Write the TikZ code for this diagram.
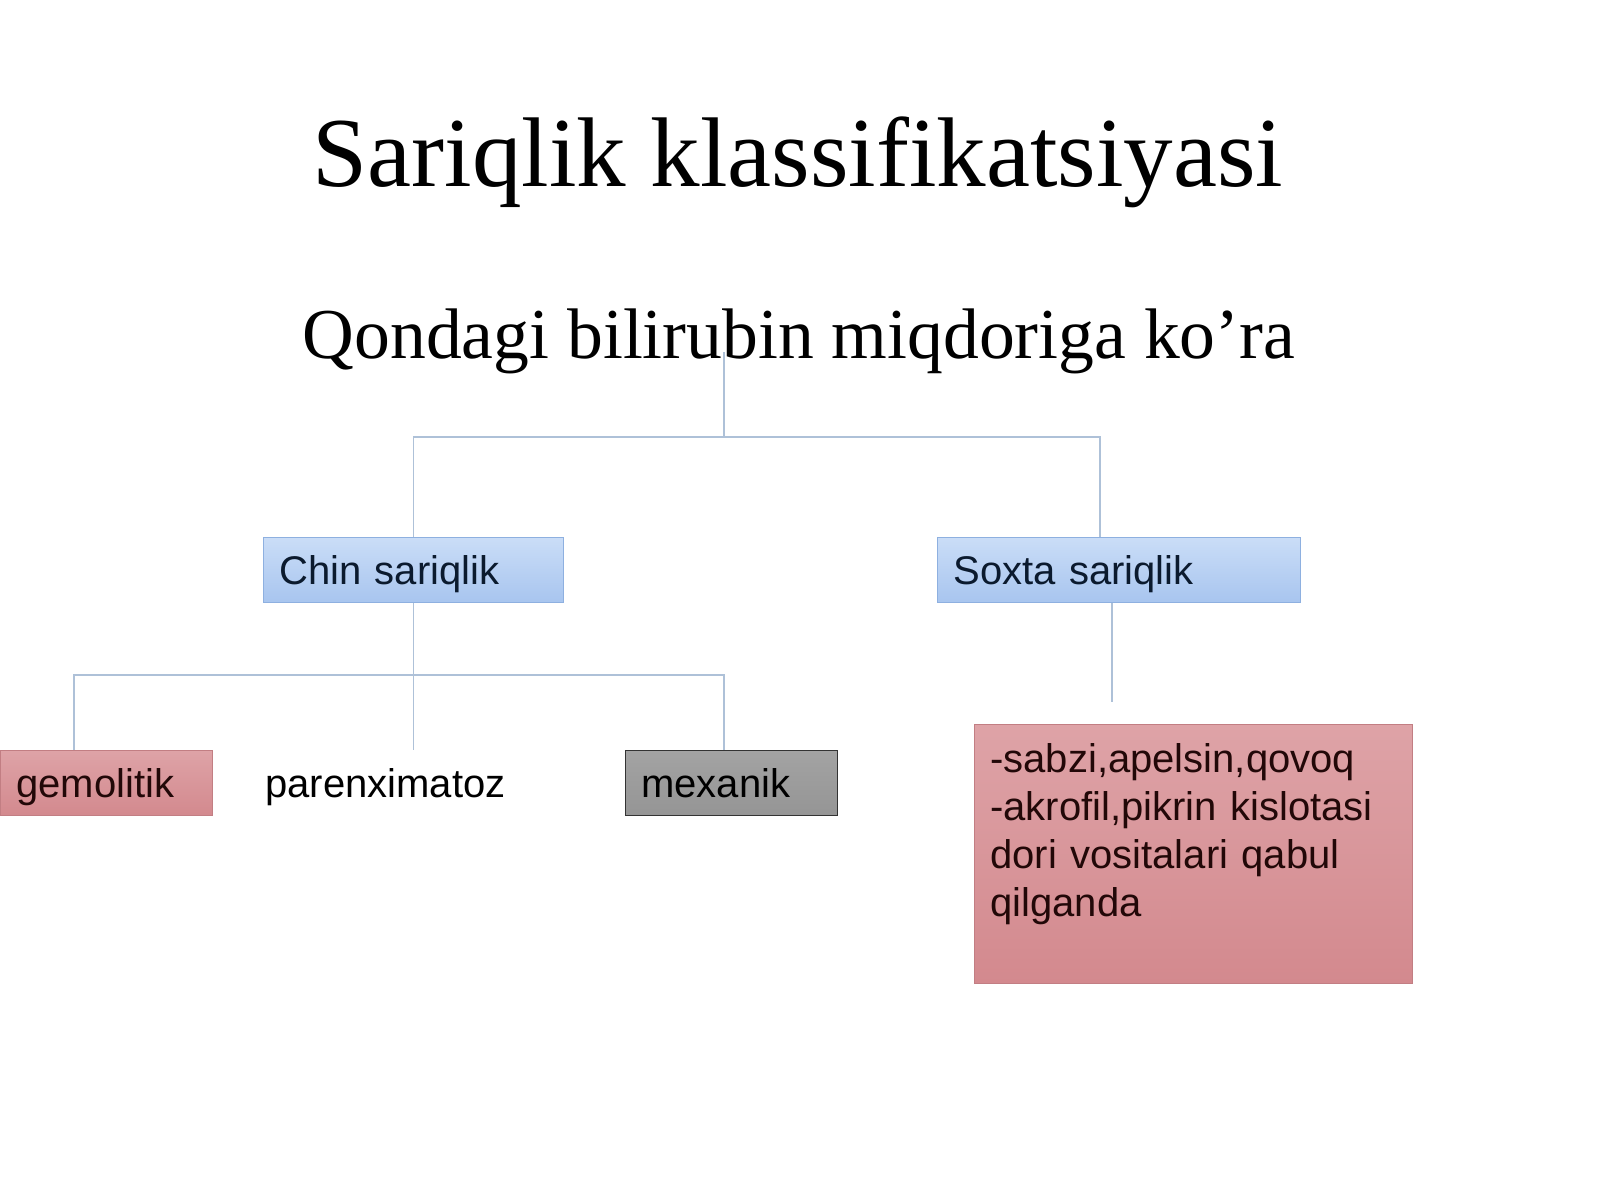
\documentclass[tikz,border=0pt]{standalone}
\usepackage{fontspec}
\setmainfont{Liberation Serif}
\newfontfamily\boxfont{Liberation Sans}
\definecolor{linkc}{HTML}{AEC1D8}
\definecolor{bluetop}{HTML}{CADDF7}
\definecolor{bluebot}{HTML}{A8C5EF}
\definecolor{blueline}{HTML}{8EB0E0}
\definecolor{bluetext}{HTML}{0B1A2E}
\definecolor{pinktop}{HTML}{DEA3A7}
\definecolor{pinkbot}{HTML}{D3898E}
\definecolor{pinkline}{HTML}{C27E83}
\definecolor{pinktext}{HTML}{220808}
\definecolor{greytop}{HTML}{A3A3A3}
\definecolor{greybot}{HTML}{959595}
\begin{document}
\begin{tikzpicture}[x=0.5pt, y=-0.5pt]
  \tikzset{link/.style={draw=linkc, line width=0.75pt},
    leaf/.style={rectangle, anchor=north west, inner xsep=8pt, inner ysep=4.5pt,
      text height=19pt, text depth=4.5pt, align=left,
      font=\boxfont\fontsize{20}{24}\selectfont},
    bluebox/.style={leaf, draw=blueline, top color=bluetop, bottom color=bluebot, text=bluetext},
    pinkbox/.style={leaf, draw=pinkline, top color=pinktop, bottom color=pinkbot, text=pinktext},
    greybox/.style={leaf, draw=black!80, top color=greytop, bottom color=greybot, text=black}}
  \useasboundingbox (0,0) rectangle (1600,1200);
  % headings
  \node[anchor=base, font=\fontsize{49.5}{58}\selectfont] (title) at (798,186) {Sariqlik klassifikatsiyasi};
  \node[anchor=base, font=\fontsize{35.8}{42}\selectfont] (sub) at (799,358) {Qondagi bilirubin miqdoriga ko’ra};
  % boxes
  \node[bluebox, text width=134pt] (chin) at (263,537) {Chin sariqlik};
  \node[bluebox, text width=165.5pt] (soxta) at (937,537) {Soxta sariqlik};
  \node[pinkbox, text width=90pt] (gem) at (0,750) {gemolitik};
  \node[leaf, text width=125pt] (par) at (249,750) {parenximatoz};
  \node[greybox, text width=90pt] (mex) at (625,750) {mexanik};
  \node[pinkbox, text width=203pt, inner ysep=4pt, text height=20pt, text depth=101.5pt] (sabzi) at (974,724)
    {-sabzi,apelsin,qovoq\\-akrofil,pikrin kislotasi\\dori vositalari qabul\\qilganda};
  % connectors
  \coordinate (top) at (724,437);
  \coordinate (sx) at (1100,437);
  \coordinate (gx) at (74,675);
  \coordinate (mx) at (724,675);
  \coordinate (sy) at (1112,702);
  \draw[link] ([yshift=3pt]sub.base -| top) -- (top);
  \draw[link] (chin.north) |- (sx) -- (sx |- soxta.north);
  \draw[link] (chin.south) -- (chin.south |- par.north);
  \draw[link] (gx |- gem.north) -- (gx) -- (mx) -- (mx |- mex.north);
  \draw[link] (soxta.south -| sy) -- (sy);
\end{tikzpicture}
\end{document}
